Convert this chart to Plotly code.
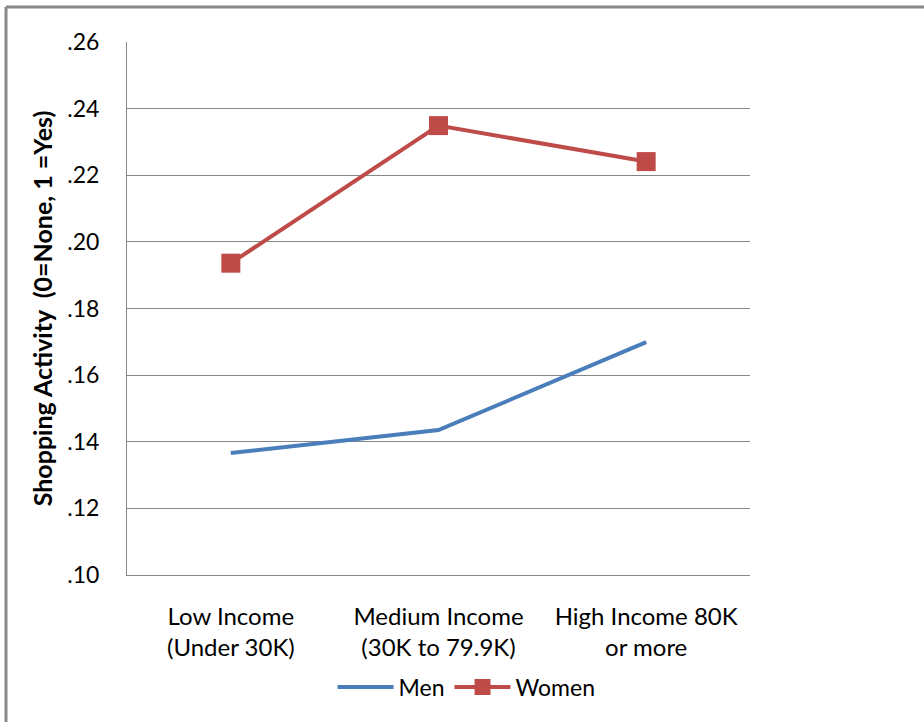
import plotly.graph_objects as go

categories = ["Low Income<br>(Under 30K)", "Medium Income<br>(30K to 79.9K)", "High Income 80K<br>or more"]
men = [0.1366, 0.1435, 0.1699]
women = [0.1936, 0.2349, 0.2241]
tick_vals = [0.10, 0.12, 0.14, 0.16, 0.18, 0.20, 0.22, 0.24, 0.26]
tick_text = [".10", ".12", ".14", ".16", ".18", ".20", ".22", ".24", ".26"]

W, H = 924, 722
L, R, T, B = 127, 174, 42, 147
pw, ph = W - L - R, H - T - B

font = "Lato, Open Sans, sans-serif"

fig = go.Figure()
fig.add_trace(go.Scatter(x=[0, 1, 2], y=men, name="Men", mode="lines",
                         line=dict(color="#4A7EBB", width=4)))
fig.add_trace(go.Scatter(x=[0, 1, 2], y=women, name="Women", mode="lines+markers",
                         line=dict(color="#BE4B48", width=4),
                         marker=dict(symbol="square", size=19, color="#BE4B48")))

def px_x(p):
    return (p - L) / pw

def px_y(p):
    return 1 - (p - T) / ph

fig.update_layout(
    width=W, height=H,
    margin=dict(l=L, r=R, t=T, b=B),
    paper_bgcolor="white", plot_bgcolor="white",
    font=dict(family=font, size=23, color="#000000"),
    showlegend=True,
    legend=dict(orientation="h", x=0.545, xanchor="center", y=-0.17, yanchor="top",
                font=dict(size=23), itemwidth=56, traceorder="normal"),
    xaxis=dict(range=[-0.5, 2.5], tickvals=[0, 1, 2], ticktext=categories,
               showgrid=False, showline=True, linecolor="#868686", linewidth=1,
               ticks="", zeroline=False, fixedrange=True, ticklabelstandoff=20,
               tickfont=dict(size=24)),
    yaxis=dict(range=[0.10, 0.26], tickvals=tick_vals, ticktext=tick_text,
               showgrid=True, gridcolor="#868686", gridwidth=1,
               showline=True, linecolor="#868686", linewidth=1,
               ticks="", zeroline=False, ticklabelstandoff=22,
               tickfont=dict(size=23),
               title=dict(text="<b>Shopping Activity  (0=None, 1 =Yes)</b>",
                          font=dict(size=25), standoff=7)),
    shapes=[
        dict(type="line", xref="paper", yref="paper", x0=px_x(6), x1=px_x(W + 5),
             y0=px_y(7), y1=px_y(7), line=dict(color="#888888", width=3)),
        dict(type="line", xref="paper", yref="paper", x0=px_x(6), x1=px_x(6),
             y0=px_y(7), y1=px_y(H + 5), line=dict(color="#888888", width=3)),
    ],
)

fig.write_html("out.html")
